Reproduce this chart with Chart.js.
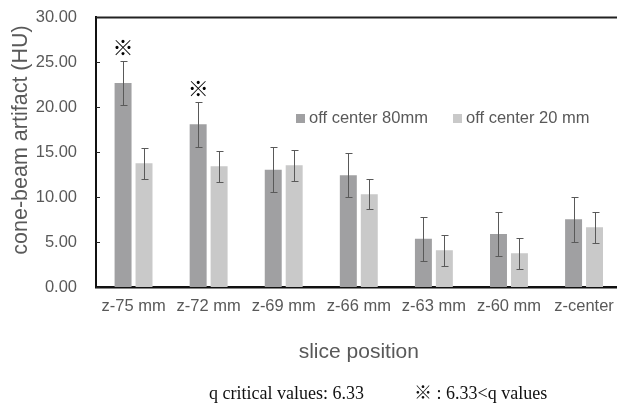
<!DOCTYPE html>
<html>
<head>
<meta charset="utf-8">
<script src="https://cdn.jsdelivr.net/npm/chart.js@4/dist/chart.umd.min.js"></script>
<style>
	body { margin: 0; overflow: hidden; background: #fff; }
	#wrap { width: 624px; height: 407px; }
</style>
</head>
<body>
<div id="wrap"><canvas id="artifact-chart"></canvas></div>
<script>
const slices = ['z-75 mm', 'z-72 mm', 'z-69 mm', 'z-66 mm', 'z-63 mm', 'z-60 mm', 'z-center']
const off80 = [22.67, 18.07, 13.04, 12.41, 5.37, 5.89, 7.52]
const off80Err = [2.48, 2.49, 2.48, 2.44, 2.44, 2.48, 2.48]
const off20 = [13.74, 13.41, 13.52, 10.30, 4.07, 3.74, 6.63]
const off20Err = [1.74, 1.69, 1.74, 1.66, 1.71, 1.70, 1.74]
// significance marks over the 80mm bars
const marks80 = ['※', '※', '', '', '', '', '']

const textGray = '#595959'
const sans = '"Liberation Sans", Arial, sans-serif'

// error bars, the ※ marks, inner ticks and the top edge of the frame
var extras = {
	id: 'extras',
	afterDatasetsDraw: function (chart) {
		var ctx = chart.ctx
		var y = chart.scales.y
		var a = chart.chartArea
		ctx.save()
		ctx.strokeStyle = textGray
		ctx.lineWidth = 1
		chart.data.datasets.forEach(function (ds, i) {
			chart.getDatasetMeta(i).data.forEach(function (bar, j) {
				var x = Math.round(bar.x) + 0.5
				var top = Math.round(y.getPixelForValue(ds.data[j] + ds.err[j])) + 0.5
				var bot = Math.round(y.getPixelForValue(ds.data[j] - ds.err[j])) + 0.5
				ctx.beginPath()
				ctx.moveTo(x, top); ctx.lineTo(x, bot)
				ctx.moveTo(x - 3, top); ctx.lineTo(x + 4, top)
				ctx.moveTo(x - 3, bot); ctx.lineTo(x + 4, bot)
				ctx.stroke()
				if (ds.marks && ds.marks[j]) {
					ctx.fillStyle = '#000'
					ctx.font = '21px "Noto Sans CJK JP"'
					ctx.textAlign = 'center'
					ctx.textBaseline = 'middle'
					ctx.fillText(ds.marks[j], bar.x, top - 14)
				}
			})
		})
		ctx.strokeStyle = '#222'
		ctx.lineWidth = 1
		ctx.beginPath()
		y.ticks.forEach(function (t, k) {
			var py = Math.round(y.getPixelForTick(k)) + 0.5
			ctx.moveTo(a.left, py)
			ctx.lineTo(a.left + 4, py)
		})
		ctx.stroke()
		ctx.lineWidth = 2
		ctx.beginPath()
		ctx.moveTo(a.left, a.top + 0.5)
		ctx.lineTo(a.right, a.top + 0.5)
		ctx.stroke()
		ctx.restore()
	},
	afterDraw: function (chart) {
		var ctx = chart.ctx
		ctx.save()
		// legend sits inside the plot area
		var lx = [296, 453]
		ctx.font = '16.5px ' + sans
		ctx.textBaseline = 'middle'
		ctx.textAlign = 'left'
		chart.data.datasets.forEach(function (ds, i) {
			ctx.fillStyle = ds.backgroundColor
			ctx.fillRect(lx[i], 114, 9, 9)
			ctx.fillStyle = textGray
			ctx.fillText(ds.label, lx[i] + 13, 118.5)
		})
		// y axis title, sits a little above the middle of the axis
		ctx.save()
		ctx.translate(21, 140)
		ctx.rotate(-Math.PI / 2)
		ctx.textAlign = 'center'
		ctx.font = '21.5px ' + sans
		ctx.fillText('cone-beam artifact (HU)', 0, 0)
		ctx.restore()
		// footnote
		ctx.fillStyle = '#111'
		ctx.font = '18px "Liberation Serif", "Times New Roman", serif'
		ctx.textBaseline = 'alphabetic'
		ctx.fillText('q critical values: 6.33', 209, 399)
		ctx.font = '18px "Liberation Serif", "Noto Sans CJK JP", serif'
		ctx.fillText('※ : 6.33<q values', 414, 399)
		ctx.restore()
	}
}

var chart = new Chart(document.getElementById('artifact-chart'), {
	type: 'bar',
	data: {
		labels: slices,
		datasets: [
			{
				label: 'off center 80mm',
				data: off80,
				err: off80Err,
				marks: marks80,
				backgroundColor: '#a0a0a2'
			},
			{
				label: 'off center 20 mm',
				data: off20,
				err: off20Err,
				backgroundColor: '#c9c9c9'
			}
		]
	},
	options: {
		responsive: true,
		maintainAspectRatio: false,
		animation: false,
		categoryPercentage: 0.558,
		barPercentage: 0.81,
		layout: { padding: { left: 0, top: 17, right: 2, bottom: 0 } },
		plugins: {
			legend: { display: false },
			tooltip: { enabled: false }
		},
		scales: {
			x: {
				grid: { display: false, drawTicks: false },
				border: { display: true, color: '#111', width: 2.5 },
				ticks: { color: textGray, font: { family: sans, size: 16.5 }, padding: 10, maxRotation: 0 },
				title: {
					display: true,
					text: 'slice position',
					color: textGray,
					font: { family: sans, size: 21 },
					padding: { top: 0, bottom: 42 }
				},
				afterFit: function (s) { s.height = 120 }
			},
			y: {
				min: 0,
				max: 30,
				grid: { display: false, drawTicks: false },
				border: { display: true, color: '#111', width: 2 },
				ticks: {
					stepSize: 5,
					color: textGray,
					font: { family: sans, size: 16.5 },
					padding: 19,
					callback: function (v) { return v.toFixed(2) }
				},
				// fixed axis width; the tick padding should not push the plot top down
				afterFit: function (s) {
					s.width = 96
					s.paddingTop = 0
					s.paddingBottom = 0
				}
			}
		}
	},
	plugins: [extras]
})
</script>
</body>
</html>
